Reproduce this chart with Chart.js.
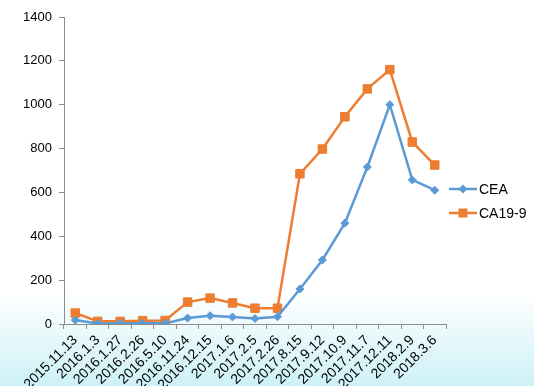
<!DOCTYPE html>
<html lang="zh-cn">
<head>
  <meta charset="UTF-8">
  <title>CEA / CA19-9</title>
  <style>
    html, body {
      margin: 0;
      padding: 0;
    }
    body {
      width: 534px;
      height: 386px;
      background: linear-gradient(to bottom, #ffffff 0%, #ffffff 76%, #e6f8fb 88%, #cdf1f7 100%);
    }
    .canvas_box {
      width: 534px;
      height: 386px;
    }
  </style>
  <script src="https://cdn.jsdelivr.net/npm/chart.js@4.4.6/dist/chart.umd.min.js"></script>
</head>
<body>
<div class="canvas_box">
  <canvas id="myChart" width="534" height="386"></canvas>
</div>
<script>
// data
var dates = ['2015.11.13', '2016.1.3', '2016.1.27', '2016.2.26', '2016.5.10', '2016.11.24',
             '2016.12.15', '2017.1.6', '2017.2.5', '2017.2.26', '2017.8.15', '2017.9.12',
             '2017.10.9', '2017.11.7', '2017.12.11', '2018.2.9', '2018.3.6'];
var ceaValues = [18, 2, 3, 3, 3, 27, 38, 32, 25, 33, 160, 292, 460, 716, 1000, 657, 610];
var ca199Values = [50, 12, 12, 15, 16, 100, 118, 96, 72, 72, 685, 798, 945, 1072, 1160, 830, 725];
var yTicks = [0, 200, 400, 600, 800, 1000, 1200, 1400];

var axisColor = '#8c8c8c';

// excel-like legend: short line with the marker in the middle
var sideLegend = {
  id: 'sideLegend',
  afterDraw: function(chart) {
    var c = chart.ctx;
    var rows = [189, 213];
    chart.data.datasets.forEach(function(ds, i) {
      var y = rows[i];
      c.save();
      c.strokeStyle = ds.borderColor;
      c.lineWidth = 2.5;
      c.beginPath();
      c.moveTo(449, y);
      c.lineTo(477, y);
      c.stroke();
      c.fillStyle = ds.pointBackgroundColor;
      c.beginPath();
      if (ds.pointStyle === 'rect') {
        c.fillRect(463 - 4.5, y - 4.5, 9, 9);
      } else {
        c.moveTo(463, y - 4.5);
        c.lineTo(467.5, y);
        c.lineTo(463, y + 4.5);
        c.lineTo(458.5, y);
        c.closePath();
        c.fill();
      }
      c.fillStyle = '#000';
      c.font = '14px "Liberation Sans", Arial';
      c.textBaseline = 'middle';
      c.fillText(ds.label, 479, y + 1);
      c.restore();
    });
  }
};

var ctx = document.getElementById('myChart');
var myChart = new Chart(ctx, {
  type: 'line',
  data: {
    labels: dates,
    datasets: [
      {
        label: 'CEA',
        data: ceaValues,
        borderColor: '#5b9bd5',
        backgroundColor: '#5b9bd5',
        pointBackgroundColor: '#5b9bd5',
        pointBorderColor: '#5b9bd5',
        pointStyle: 'rectRot',
        pointRadius: 4,
        pointBorderWidth: 1,
        borderWidth: 2.5,
        tension: 0
      },
      {
        label: 'CA19-9',
        data: ca199Values,
        borderColor: '#ed7d31',
        backgroundColor: '#ed7d31',
        pointBackgroundColor: '#ed7d31',
        pointBorderColor: '#ed7d31',
        pointStyle: 'rect',
        pointRadius: 6,
        pointBorderWidth: 1,
        borderWidth: 2.5,
        tension: 0
      }
    ]
  },
  options: {
    responsive: false,
    animation: false,
    layout: {
      padding: { left: 14, right: 88, top: 17, bottom: 0 }
    },
    plugins: {
      legend: { display: false },
      tooltip: { enabled: false }
    },
    scales: {
      x: {
        offset: true,
        grid: {
          offset: true,
          drawOnChartArea: false,
          tickLength: 5,
          color: axisColor
        },
        border: { color: axisColor, width: 1 },
        ticks: {
          color: '#000',
          font: { family: 'Liberation Sans, Arial', size: 14 },
          minRotation: 45,
          maxRotation: 45,
          autoSkip: false,
          padding: 3
        },
        afterFit: function(scale) { scale.height = 62; }
      },
      y: {
        min: 0,
        max: 1400,
        afterBuildTicks: function(scale) {
          scale.ticks = yTicks.map(function(v) { return { value: v }; });
        },
        grid: {
          drawOnChartArea: false,
          tickLength: 5,
          color: axisColor
        },
        border: { color: axisColor, width: 1 },
        ticks: {
          color: '#000',
          font: { family: 'Liberation Sans, Arial', size: 13 },
          padding: 7,
          callback: function(value) { return String(value); }
        },
        afterFit: function(scale) { scale.width = 50; }
      }
    }
  },
  plugins: [sideLegend]
});
</script>
</body>
</html>
